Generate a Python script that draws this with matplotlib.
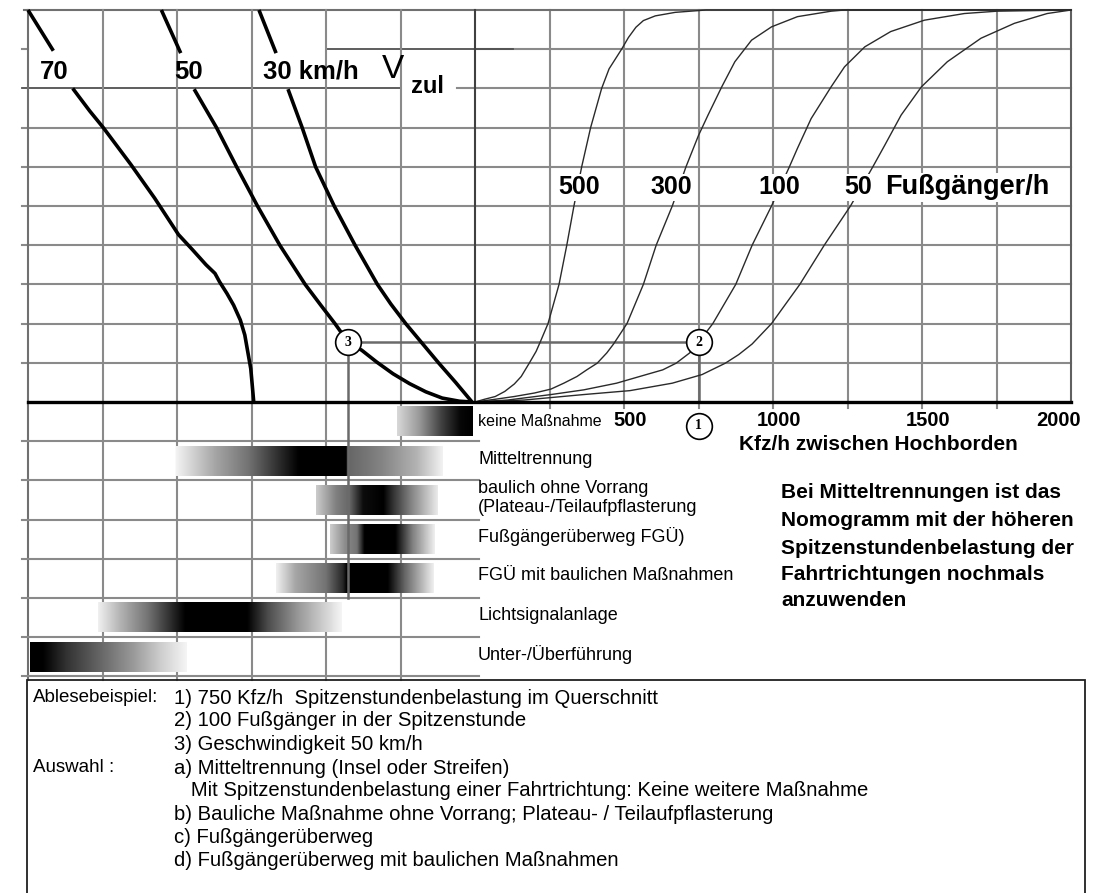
import numpy as np
import matplotlib
matplotlib.use("Agg")
import matplotlib.pyplot as plt
from matplotlib.patches import Rectangle

plt.rcParams['font.family'] = ['Liberation Sans', 'DejaVu Sans']

# ---------------- data ----------------
# Left panel: permissible speed curves V_zul (grid units; x < 0 left of origin, y 0..10)
speed_names = ["70", "50", "30 km/h"]
speed70_x = [-6.0, -5.66, -5.40, -5.17, -4.99, -4.62, -4.30, -3.98, -3.79, -3.61, -3.49, -3.43, -3.33,
             -3.24, -3.15, -3.09, -3.05, -3.01, -2.99, -2.97]
speed70_y = [10.0, 8.96, 8.0, 7.42, 7.0, 6.06, 5.2, 4.27, 3.88, 3.50, 3.28, 3.07, 2.77,
             2.47, 2.09, 1.71, 1.28, 0.85, 0.43, 0.0]
speed50_x = [-4.21, -3.95, -3.77, -3.47, -3.20, -2.92, -2.62, -2.28, -2.07, -1.88, -1.70, -1.52, -1.32,
             -1.10, -0.88, -0.66, -0.44, -0.21, -0.04]
speed50_y = [10.0, 8.9, 7.98, 7.0, 6.0, 5.0, 4.0, 3.0, 2.47, 2.0, 1.52, 1.32, 1.02,
             0.72, 0.47, 0.26, 0.10, 0.02, 0.0]
speed30_x = [-2.90, -2.67, -2.51, -2.32, -2.14, -1.89, -1.61, -1.31, -1.13, -0.93, -0.71, -0.49, -0.26, -0.04]
speed30_y = [10.0, 8.9, 7.98, 7.0, 6.0, 5.0, 4.0, 3.0, 2.5, 2.0, 1.5, 1.0, 0.5, 0.0]

# Right panel: pedestrians per hour curves (x in Kfz/h, y in grid units)
ped_names = ["500", "300", "100", "50"]
ped500_kfz = [0, 32, 68, 100, 132, 155, 182, 205, 220, 245, 282, 308, 332, 358, 388, 425, 450, 492, 515,
              540, 565, 605, 672, 775, 2000]
ped500_y = [0, 0.07, 0.14, 0.27, 0.46, 0.65, 0.99, 1.29, 1.55, 2.0, 3.0, 4.0, 5.0, 6.0, 7.0, 8.0, 8.5, 9.0, 9.3,
            9.56, 9.73, 9.85, 9.94, 10.0, 10.0]
ped300_kfz = [0, 68, 132, 200, 255, 298, 342, 375, 410, 442, 465, 510, 565, 608, 662, 708, 750, 782, 828,
              872, 928, 995, 1082, 1195, 1240, 2000]
ped300_y = [0, 0.07, 0.14, 0.23, 0.33, 0.48, 0.65, 0.82, 0.99, 1.25, 1.48, 2.0, 3.0, 4.0, 5.0, 6.0, 6.8,
            7.32, 8.04, 8.68, 9.23, 9.57, 9.83, 9.97, 10.0, 10.0]
ped100_kfz = [0, 110, 255, 365, 475, 575, 630, 675, 720, 750, 798, 875, 930, 995, 1055, 1082, 1128, 1195,
              1240, 1308, 1395, 1508, 1642, 1752, 2000]
ped100_y = [0, 0.05, 0.19, 0.31, 0.48, 0.70, 0.82, 0.99, 1.25, 1.52, 2.0, 3.0, 4.0, 5.0, 6.0, 6.47, 7.23, 8.04,
            8.55, 9.06, 9.45, 9.74, 9.91, 9.97, 10.0]
ped50_kfz = [0, 165, 365, 520, 662, 762, 840, 885, 930, 995, 1090, 1172, 1260, 1335, 1375, 1430, 1498,
             1585, 1698, 1810, 1920, 2000]
ped50_y = [0, 0.05, 0.19, 0.29, 0.48, 0.70, 0.99, 1.21, 1.48, 2.0, 3.0, 4.0, 5.0, 6.0, 6.55, 7.32, 8.04,
           8.68, 9.28, 9.66, 9.91, 10.0]

kfz_ticks = [500, 1000, 1500, 2000]
kfz_per_unit = 250

# Reading example
example_kfz = 750
example_level = 1.52
example_speed_x = -1.70

# Measures (rows below the axis): gradient profiles (grid units, darkness 0..1)
measure_labels = ["keine Maßnahme", "Mitteltrennung", "baulich ohne Vorrang\n(Plateau-/Teilaufpflasterung",
                  "Fußgängerüberweg FGÜ)", "FGÜ mit baulichen Maßnahmen", "Lichtsignalanlage", "Unter-/Überführung"]
bar_pos = [
    [-1.05, -0.75, -0.45, -0.2, -0.03],
    [-4.01, -3.49, -3.04, -2.59, -2.36, -1.73, -1.69, -1.24, -0.78, -0.43],
    [-2.14, -1.87, -1.69, -1.51, -1.24, -1.11, -0.88, -0.51],
    [-1.95, -1.75, -1.59, -1.49, -1.08, -0.85, -0.55],
    [-2.67, -2.41, -2.0, -1.77, -1.72, -1.17, -0.94, -0.55],
    [-5.06, -4.76, -4.39, -4.11, -3.89, -3.06, -2.78, -2.37, -1.79],
    [-5.97, -5.80, -5.48, -5.03, -4.59, -4.23, -3.87],
]
bar_dark = [
    [0.15, 0.4, 0.75, 0.97, 1.0],
    [0.05, 0.35, 0.55, 0.85, 1.0, 1.0, 0.6, 0.48, 0.3, 0.05],
    [0.2, 0.5, 0.6, 0.95, 1.0, 0.8, 0.5, 0.08],
    [0.2, 0.45, 0.55, 1.0, 1.0, 0.5, 0.06],
    [0.06, 0.35, 0.55, 0.85, 1.0, 1.0, 0.6, 0.06],
    [0.06, 0.3, 0.55, 0.8, 1.0, 1.0, 0.7, 0.4, 0.04],
    [1.0, 1.0, 0.8, 0.6, 0.4, 0.2, 0.04],
]

note_lines = ["Bei Mitteltrennungen ist das", "Nomogramm mit der höheren",
              "Spitzenstundenbelastung der", "Fahrtrichtungen nochmals", "anzuwenden"]
box_left = ["Ablesebeispiel:", "", "", "Auswahl :", "", "", "", ""]
box_right = ["1) 750 Kfz/h  Spitzenstundenbelastung im Querschnitt",
             "2) 100 Fußgänger in der Spitzenstunde",
             "3) Geschwindigkeit 50 km/h",
             "a) Mitteltrennung (Insel oder Streifen)",
             "   Mit Spitzenstundenbelastung einer Fahrtrichtung: Keine weitere Maßnahme",
             "b) Bauliche Maßnahme ohne Vorrang; Plateau- / Teilaufpflasterung",
             "c) Fußgängerüberweg",
             "d) Fußgängerüberweg mit baulichen Maßnahmen"]

# ---------------- layout helpers ----------------
W, H = 1107, 893
OX, OY, SX, SY = 475.0, 402.0, 74.5, 39.2
def U(px):
    return (px - OX) / SX
def V(py):
    return (OY - py) / SY

fig = plt.figure(figsize=(W / 100, H / 100), dpi=100)
ax = fig.add_axes([0, 0, 1, 1])
ax.axis('off')

GRID = '#8a8a8a'
GLW = 1.5

# grid: right panel
for j in range(1, 10):
    ax.plot([0, 8], [j, j], color=GRID, lw=GLW, zorder=1)
for i in range(1, 8):
    ax.plot([i, i], [0, 10], color=GRID, lw=GLW, zorder=1)
    ax.plot([i, i], [0, -0.15], color=GRID, lw=GLW, zorder=1)
ax.plot([8, 8], [0, 10], color='#606060', lw=GLW, zorder=1)
# top line
ax.plot([-6.05, 8], [10, 10], color='#707070', lw=GLW, zorder=1)
# left panel horizontals
for j in range(1, 8):
    ax.plot([-6.08, 0], [j, j], color=GRID, lw=GLW, zorder=1)
ax.plot([-6.08, U(400)], [8, 8], color='#505050', lw=1.3, zorder=1)
ax.plot([U(457), 0], [8, 8], color=GRID, lw=GLW, zorder=1)
ax.plot([-2.0, U(513)], [9, 9], color='#505050', lw=1.3, zorder=1)
ax.plot([-6.08, -6.0], [9, 9], color=GRID, lw=GLW, zorder=1)
# left panel verticals
for i in range(-6, 0):
    ax.plot([i, i], [10, -7.1], color=GRID if i > -6 else '#707070', lw=GLW, zorder=1)
ax.plot([0, 0], [0, 10], color='#404040', lw=1.5, zorder=1)
# rows below axis
for j in range(1, 8):
    ax.plot([-6.08, 0.05], [-j, -j], color=GRID, lw=GLW, zorder=1)

# main axis
ax.plot([-6.0, 8.0], [0, 0], color='black', lw=2.4, zorder=5)

# gradient bars
for i, (pos, dk) in enumerate(zip(bar_pos, bar_dark)):
    xs = np.linspace(pos[0], pos[-1], 500)
    g = np.interp(xs, pos, dk)
    top, bot = -i - 0.12, -i - 0.88
    ax.imshow(g[None, :], cmap='gray_r', vmin=0, vmax=1,
              extent=[pos[0], pos[-1], bot, top], aspect='auto',
              interpolation='bilinear', zorder=2)

# reading lines
RL = '#6a6a6a'
ax.plot([example_speed_x, example_kfz / kfz_per_unit], [example_level, example_level], color=RL, lw=1.8, zorder=3)
ax.plot([example_kfz / kfz_per_unit] * 2, [example_level, 0], color=RL, lw=1.8, zorder=3)
ax.plot([example_speed_x] * 2, [example_level, -5.0], color=RL, lw=1.8, zorder=3)

# speed curves (broken in label band)
for xs, ys in [(speed70_x, speed70_y), (speed50_x, speed50_y), (speed30_x, speed30_y)]:
    xs = np.array(xs); ys = np.array(ys)
    up = ys >= 8.85
    lo = ys <= 8.0
    ax.plot(xs[up], ys[up], color='black', lw=2.6, zorder=4, solid_capstyle='butt')
    ax.plot(xs[lo], ys[lo], color='black', lw=2.6, zorder=4, solid_capstyle='butt',
            solid_joinstyle='round')

# pedestrian curves
for ks, ys in [(ped500_kfz, ped500_y), (ped300_kfz, ped300_y), (ped100_kfz, ped100_y), (ped50_kfz, ped50_y)]:
    ax.plot(np.array(ks) / kfz_per_unit, ys, color='#2a2a2a', lw=1.0, zorder=4)

# labels: speeds
bb = dict(facecolor='white', edgecolor='none', pad=1.0)
ax.text(-5.65, 8.42, speed_names[0], fontsize=18.5, fontweight='bold', ha='center', va='center', zorder=7)
ax.text(-3.85, 8.42, speed_names[1], fontsize=18.5, fontweight='bold', ha='center', va='center', zorder=7)
ax.text(-2.84, 8.42, speed_names[2], fontsize=18.5, fontweight='bold', ha='left', va='center', zorder=7)
ax.text(U(382), 8.48, "V", fontsize=24, ha='left', va='center', zorder=7)
ax.text(U(411), 8.06, "zul", fontsize=17, fontweight='bold', ha='left', va='center', zorder=7)

# labels: pedestrians
ped_label_x = [1.40, 2.64, 4.09, 5.14]
for name, px in zip(ped_names, ped_label_x):
    ax.text(px, 5.48, name, fontsize=18, fontweight='bold', ha='center', va='center', bbox=bb, zorder=7)
ax.text(5.50, 5.48, "Fußgänger/h", fontsize=19.5, fontweight='bold', ha='left', va='center', bbox=bb, zorder=7)

# axis tick labels
for t in kfz_ticks:
    if t == 2000:
        ax.text(t / kfz_per_unit + 0.13, -0.47, str(t), fontsize=14.5, fontweight='bold', ha='right', va='center', zorder=7)
    else:
        ax.text(t / kfz_per_unit + 0.08, -0.47, str(t), fontsize=14.5, fontweight='bold', ha='center', va='center', zorder=7)
ax.text(U(878), V(444), "Kfz/h zwischen Hochborden", fontsize=15, fontweight='bold', ha='center', va='center', zorder=7)

# row labels
row_y = [V(422), V(459), V(498), V(537), V(576), V(615), V(654)]
for k, (lab, yy) in enumerate(zip(measure_labels, row_y)):
    ax.text(U(478), yy, lab, fontsize=11.5 if k == 0 else 13, ha='left', va='center',
            linespacing=1.15, zorder=7)

# note
note_y = [493, 521, 548, 575, 600]
for line, py in zip(note_lines, note_y):
    ax.text(U(781), V(py), line, fontsize=15, fontweight='bold', ha='left', va='center', zorder=7)

# circles
circle_x = [example_kfz / kfz_per_unit, example_kfz / kfz_per_unit, example_speed_x]
circle_y = [-0.6, example_level, example_level]
for n, (cx, cy) in enumerate(zip(circle_x, circle_y), start=1):
    ax.plot([cx], [cy], 'o', ms=18.5, mfc='white', mec='black', mew=1.2, zorder=8)
    ax.text(cx, cy, str(n), fontsize=10, fontweight='bold', family='Liberation Serif',
            ha='center', va='center', zorder=9)

# text box
ax.add_patch(Rectangle((U(27), V(895)), U(1085) - U(27), V(680) - V(895),
                       facecolor='none', edgecolor='#202020', lw=1.3, zorder=6))
box_y = [698, 721, 745, 768, 791, 815, 838, 861]
for l, r, py in zip(box_left, box_right, box_y):
    if l:
        ax.text(U(33), V(py), l, fontsize=13.5, ha='left', va='center', zorder=7)
    ax.text(U(174), V(py), r, fontsize=14.6, ha='left', va='center', zorder=7)

ax.set_xlim(U(0), U(W))
ax.set_ylim(V(H), V(0))
fig.savefig("out.png", dpi=100, facecolor='white')
